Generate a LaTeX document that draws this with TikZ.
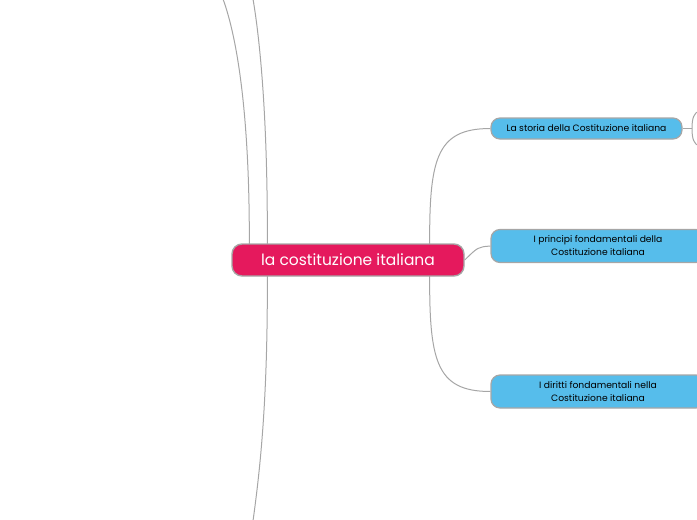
\documentclass[tikz,border=0pt]{standalone}
\usepackage{fontspec}
\setmainfont{Poppins}
\usetikzlibrary{backgrounds}
\definecolor{rootfill}{HTML}{E5195D}
\definecolor{childfill}{HTML}{56BDEB}
\definecolor{edgegray}{HTML}{A6A6A6}
\begin{document}
\begin{tikzpicture}[x=1pt,y=-1pt,
  rootbox/.style={draw=edgegray,line width=1.4pt,fill=rootfill,rounded corners=10pt,
    minimum width=232pt,minimum height=32pt,inner sep=0pt,text=white,font=\fontsize{15.5}{17}\selectfont},
  childbox/.style={draw=edgegray,line width=1.2pt,fill=childfill,rounded corners=9pt,
    inner sep=0pt,align=center,text=black,font=\fontsize{9.2}{13}\selectfont},
  link/.style={draw=edgegray,line width=1pt}]
\useasboundingbox (0,0) rectangle (697,520);
\node[rootbox] (root) at (348,260) {la costituzione italiana};
\node[childbox,minimum width=191pt,minimum height=21pt] (storia) at (586.5,128.5) {La storia della Costituzione italiana};
\node[childbox,minimum width=214pt,minimum height=33pt] (principi) at (598,246) {I principi fondamentali della\\Costituzione italiana};
\node[childbox,minimum width=214pt,minimum height=33pt] (diritti) at (598,391.5) {I diritti fondamentali nella\\Costituzione italiana};
\coordinate (upA) at (223,-1);
\coordinate (upB) at (253,-1);
\coordinate (downC) at (253,521);
\coordinate (sr) at (692,128.5);
\coordinate (srUp) at (699,111);
\coordinate (srDown) at (699,146);
\coordinate (a0) at ([xshift=18pt,yshift=-6pt]root.north west);
\coordinate (b0) at ([xshift=36pt,yshift=-6pt]root.north west);
\coordinate (c0) at ([xshift=36pt,yshift=6pt]root.south west);
\coordinate (s0) at ([xshift=-35pt,yshift=-8pt]root.north east);
\coordinate (d0) at ([xshift=-35pt,yshift=8pt]root.south east);
\begin{scope}[on background layer]
\path[link] (a0) .. controls (250,120) and (238,40) .. (upA);
\path[link] (b0) .. controls (268,120) and (260,40) .. (upB);
\path[link] (c0) .. controls (268,400) and (260,470) .. (downC);
\path[link] (s0) .. controls (429,160) and (435,128.5) .. (storia.west);
\path[link] (d0) .. controls (429,360) and (435,391.5) .. (diritti.west);
\path[link] (root.east) .. controls (478,247) .. (principi.west);
\path[link] (storia.east) -- (sr);
\path[link] (sr) .. controls (692,118) and (694,113) .. (srUp);
\path[link] (sr) .. controls (692,139) and (694,144) .. (srDown);
\end{scope}
\end{tikzpicture}
\end{document}
